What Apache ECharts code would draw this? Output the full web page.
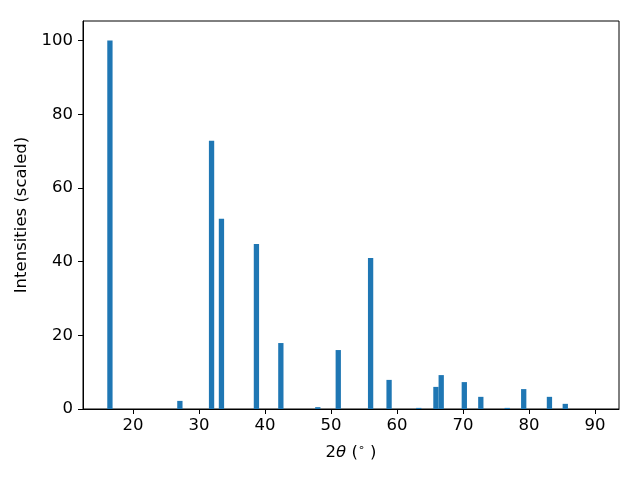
<!DOCTYPE html>
<html>
<head>
<meta charset="utf-8">
<script src="https://cdn.jsdelivr.net/npm/echarts@6/dist/echarts.min.js"></script>
<style>html,body{margin:0;padding:0;background:#fff}#c{width:640px;height:480px}</style>
</head>
<body>
<div id="c"></div>
<script>
const twoTheta = [16.5, 27.1, 31.9, 33.4, 38.7, 42.4, 48.0, 51.1, 56.0, 58.8, 63.3, 65.9, 66.7, 70.2, 72.7, 76.7, 79.2, 83.1, 85.5];
const intensity = [100, 2.2, 72.8, 51.6, 44.8, 17.9, 0.5, 16.0, 41.0, 7.9, 0.3, 6.0, 9.2, 7.3, 3.3, 0.3, 5.4, 3.3, 1.4];
const xTicks = [20, 30, 40, 50, 60, 70, 80, 90];
const yTicks = [0, 20, 40, 60, 80, 100];

const chart = echarts.init(document.getElementById('c'), null, {renderer: 'canvas'});
const font = 'DejaVu Sans';
const fs = 16.5;
chart.setOption({
  animation: false,
  grid: {left: 83, right: 21, top: 21, bottom: 71, show: true, borderColor: '#000', borderWidth: 1, backgroundColor: 'transparent'},
  xAxis: {
    type: 'value', min: 12.42, max: 93.64,
    name: '{n|2}{i|θ}{n| (}{s|∘}{n| )}', nameLocation: 'middle', nameGap: 34,
    nameTextStyle: {
      color: '#000', fontFamily: font, fontSize: fs,
      rich: {
        i: {fontStyle: 'italic', fontFamily: font, fontSize: fs, color: '#000'},
        n: {fontFamily: font, fontSize: fs, color: '#000'},
        s: {fontFamily: font, fontSize: 11, color: '#000', verticalAlign: 'top', padding: [0, 0, 8, 0]}
      }
    },
    splitLine: {show: false},
    axisLine: {show: true, onZero: false, lineStyle: {color: '#000', width: 1}},
    axisTick: {show: true, length: 5, lineStyle: {color: '#000'}, customValues: xTicks},
    axisLabel: {color: '#000', fontFamily: font, fontSize: fs, margin: 8, customValues: xTicks}
  },
  yAxis: {
    type: 'value', min: 0, max: 105.3,
    name: 'Intensities (scaled)', nameLocation: 'middle', nameGap: 44,
    nameTextStyle: {color: '#000', fontFamily: font, fontSize: fs},
    splitLine: {show: false},
    axisLine: {show: true, lineStyle: {color: '#000', width: 1}},
    axisTick: {show: true, length: 5, lineStyle: {color: '#000'}, customValues: yTicks},
    axisLabel: {color: '#000', fontFamily: font, fontSize: fs, margin: 10, customValues: yTicks}
  },
  series: [{
    type: 'bar',
    barWidth: 5.3,
    itemStyle: {color: '#1f77b4'},
    data: twoTheta.map((x, i) => [x, intensity[i]])
  }]
});
</script>
</body>
</html>
